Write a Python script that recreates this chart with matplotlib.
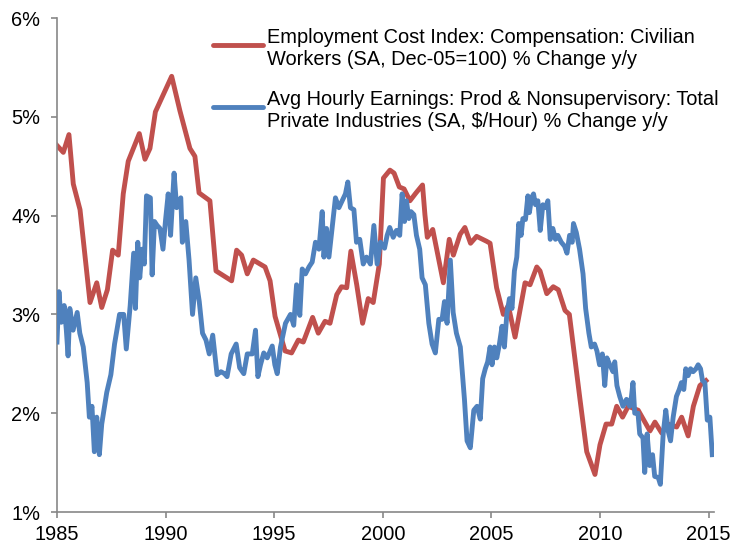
import matplotlib
matplotlib.use("Agg")
import matplotlib.pyplot as plt
from matplotlib.lines import Line2D
from matplotlib.ticker import FuncFormatter

plt.rcParams['font.family'] = ['Liberation Sans', 'DejaVu Sans']

# Employment Cost Index, civilian compensation, % y/y
eci_years = [1985.0, 1985.29, 1985.55, 1985.75, 1986.06, 1986.52, 1986.83, 1987.06, 1987.32, 1987.56,
             1987.82, 1988.05, 1988.28, 1988.79, 1989.05, 1989.28, 1989.53, 1990.28, 1990.66, 1991.12,
             1991.35, 1991.54, 1992.04, 1992.32, 1993.04, 1993.27, 1993.5, 1993.76, 1994.04, 1994.58,
             1994.81, 1995.04, 1995.5, 1995.8, 1996.11, 1996.34, 1996.77, 1997.03, 1997.34, 1997.57,
             1997.88, 1998.1, 1998.34, 1998.53, 1998.8, 1999.07, 1999.33, 1999.56, 1999.84, 2000.03,
             2000.33, 2000.52, 2000.76, 2000.98, 2001.25, 2001.53, 2001.83, 2001.94, 2002.05, 2002.3,
             2002.79, 2003.06, 2003.25, 2003.56, 2003.78, 2004.04, 2004.32, 2004.78, 2004.94, 2005.24,
             2005.55, 2005.78, 2006.09, 2006.55, 2006.78, 2007.09, 2007.24, 2007.55, 2007.85, 2008.08,
             2008.39, 2008.59, 2009.08, 2009.39, 2009.77, 2010.0, 2010.28, 2010.54, 2010.77, 2011.04,
             2011.3, 2011.76, 2012.3, 2012.53, 2012.84, 2013.14, 2013.53, 2013.76, 2014.06, 2014.3,
             2014.6, 2014.88]
eci_vals = [4.71, 4.64, 4.82, 4.32, 4.06, 3.12, 3.32, 3.07, 3.25, 3.65,
            3.60, 4.22, 4.55, 4.83, 4.57, 4.68, 5.05, 5.41, 5.06, 4.68,
            4.60, 4.23, 4.15, 3.44, 3.34, 3.65, 3.60, 3.41, 3.55, 3.48,
            3.34, 2.98, 2.63, 2.61, 2.74, 2.72, 2.97, 2.81, 2.93, 2.91,
            3.20, 3.28, 3.27, 3.64, 3.30, 2.91, 3.16, 3.12, 3.51, 4.38,
            4.46, 4.43, 4.29, 4.27, 4.15, 4.23, 4.31, 4.01, 3.78, 3.86,
            3.32, 3.76, 3.60, 3.81, 3.88, 3.72, 3.79, 3.74, 3.72, 3.27,
            3.00, 3.09, 2.77, 3.32, 3.30, 3.48, 3.44, 3.21, 3.28, 3.25,
            3.04, 3.00, 2.14, 1.61, 1.38, 1.68, 1.89, 1.89, 2.07, 1.96,
            2.07, 2.03, 1.82, 1.91, 1.80, 1.89, 1.86, 1.96, 1.77, 2.07,
            2.28, 2.33]

# Avg hourly earnings, production & nonsupervisory, % y/y
ahe_years = [1985.0, 1985.09, 1985.2, 1985.33, 1985.43, 1985.51, 1985.59, 1985.74, 1985.93, 1986.05,
             1986.21, 1986.39, 1986.49, 1986.61, 1986.72, 1986.83, 1986.95, 1987.06, 1987.29, 1987.48,
             1987.65, 1987.88, 1988.07, 1988.19, 1988.37, 1988.53, 1988.61, 1988.72, 1988.81, 1988.92,
             1989.02, 1989.12, 1989.3, 1989.38, 1989.49, 1989.61, 1989.74, 1989.88, 1990.0, 1990.12,
             1990.23, 1990.39, 1990.51, 1990.7, 1990.77, 1990.93, 1991.08, 1991.24, 1991.39, 1991.55,
             1991.7, 1991.86, 1992.01, 1992.17, 1992.37, 1992.55, 1992.71, 1992.83, 1993.02, 1993.25,
             1993.41, 1993.6, 1993.76, 1993.99, 1994.14, 1994.25, 1994.37, 1994.52, 1994.68, 1994.91,
             1995.03, 1995.14, 1995.29, 1995.52, 1995.75, 1995.9, 1996.03, 1996.18, 1996.29, 1996.44,
             1996.6, 1996.75, 1996.9, 1997.06, 1997.21, 1997.29, 1997.41, 1997.52, 1997.67, 1997.82,
             1997.98, 1998.13, 1998.28, 1998.39, 1998.51, 1998.67, 1998.79, 1998.94, 1999.1, 1999.25,
             1999.43, 1999.59, 1999.74, 1999.89, 2000.08, 2000.2, 2000.32, 2000.48, 2000.63, 2000.78,
             2000.89, 2001.0, 2001.09, 2001.2, 2001.3, 2001.43, 2001.55, 2001.7, 2001.81, 2001.96,
             2002.12, 2002.27, 2002.42, 2002.58, 2002.73, 2002.84, 2002.96, 2003.11, 2003.24, 2003.39,
             2003.57, 2003.76, 2003.88, 2004.03, 2004.19, 2004.34, 2004.49, 2004.6, 2004.72, 2004.83,
             2004.94, 2005.03, 2005.14, 2005.25, 2005.37, 2005.49, 2005.6, 2005.71, 2005.83, 2005.95,
             2006.06, 2006.17, 2006.26, 2006.37, 2006.45, 2006.57, 2006.68, 2006.75, 2006.85, 2006.94,
             2007.03, 2007.14, 2007.25, 2007.37, 2007.49, 2007.6, 2007.71, 2007.83, 2007.95, 2008.06,
             2008.22, 2008.37, 2008.48, 2008.6, 2008.72, 2008.78, 2008.91, 2009.06, 2009.22, 2009.34,
             2009.49, 2009.6, 2009.75, 2009.86, 2009.98, 2010.11, 2010.22, 2010.32, 2010.45, 2010.6,
             2010.68, 2010.78, 2010.91, 2011.06, 2011.22, 2011.37, 2011.45, 2011.52, 2011.6, 2011.75,
             2011.83, 2011.98, 2012.06, 2012.17, 2012.29, 2012.42, 2012.52, 2012.68, 2012.78, 2012.91,
             2013.03, 2013.14, 2013.25, 2013.37, 2013.52, 2013.65, 2013.75, 2013.86, 2013.95, 2014.06,
             2014.17, 2014.29, 2014.42, 2014.52, 2014.63, 2014.72, 2014.83, 2014.94, 2015.06, 2015.17]
ahe_vals = [2.72, 3.23, 2.92, 3.09, 2.84, 2.58, 3.06, 2.84, 3.02, 2.81,
            2.67, 2.31, 1.96, 2.07, 1.61, 1.96, 1.58, 1.89, 2.21, 2.39,
            2.70, 3.00, 3.00, 2.65, 3.09, 3.62, 3.06, 3.73, 3.37, 3.66,
            3.51, 4.20, 4.18, 3.40, 3.94, 3.90, 3.87, 3.66, 3.96, 4.22,
            3.80, 4.43, 4.08, 4.18, 3.73, 3.94, 3.55, 3.00, 3.37, 3.13,
            2.81, 2.74, 2.60, 2.79, 2.39, 2.42, 2.40, 2.37, 2.60, 2.70,
            2.46, 2.40, 2.60, 2.60, 2.84, 2.37, 2.49, 2.61, 2.56, 2.68,
            2.49, 2.40, 2.67, 2.91, 3.00, 2.89, 3.30, 2.99, 3.46, 3.41,
            3.48, 3.53, 3.73, 3.66, 4.04, 3.58, 3.87, 3.58, 3.88, 4.18,
            4.08, 4.15, 4.22, 4.34, 4.08, 4.06, 3.73, 3.76, 3.51, 3.58,
            3.51, 3.90, 3.51, 3.73, 3.67, 3.80, 3.88, 3.78, 3.85, 3.80,
            4.22, 3.94, 4.15, 3.97, 4.04, 4.01, 3.80, 3.66, 3.37, 3.30,
            2.91, 2.70, 2.61, 2.95, 2.95, 3.13, 2.91, 3.55, 3.02, 2.81,
            2.67, 2.14, 1.72, 1.65, 2.03, 2.07, 1.94, 2.35, 2.45, 2.52,
            2.67, 2.49, 2.67, 2.56, 2.70, 2.88, 2.67, 3.00, 3.16, 3.06,
            3.44, 3.58, 3.92, 3.80, 3.97, 3.96, 4.20, 4.03, 4.18, 4.22,
            4.11, 4.15, 3.85, 4.11, 4.08, 4.15, 3.76, 3.87, 3.76, 3.80,
            3.73, 3.69, 3.62, 3.80, 3.73, 3.92, 3.83, 3.66, 3.41, 3.06,
            2.81, 2.67, 2.70, 2.63, 2.49, 2.60, 2.28, 2.56, 2.49, 2.42,
            2.52, 2.28, 2.17, 2.07, 2.14, 2.07, 2.17, 2.31, 2.00, 2.00,
            1.79, 1.75, 1.40, 1.79, 1.47, 1.58, 1.36, 1.35, 1.28, 1.79,
            2.03, 1.82, 1.72, 1.96, 2.17, 2.24, 2.31, 2.24, 2.45, 2.38,
            2.45, 2.42, 2.45, 2.49, 2.45, 2.33, 2.31, 1.93, 1.96, 1.58]

eci_label = 'Employment Cost Index: Compensation: Civilian\nWorkers (SA, Dec-05=100) % Change y/y'
ahe_label = 'Avg Hourly Earnings: Prod & Nonsupervisory: Total\nPrivate Industries (SA, $/Hour) % Change y/y'

red = '#C0504D'
blue = '#4F81BD'
axis_grey = '#878787'
fsize = 14.4

fig = plt.figure(figsize=(7.34, 5.44), dpi=100)
ax = fig.add_axes([57 / 734, 32 / 544, 657 / 734, 494 / 544])

ax.plot(eci_years, eci_vals, color=red, lw=3.5, solid_joinstyle='round', zorder=2)
ax.plot(ahe_years, ahe_vals, color=blue, lw=3.5, solid_joinstyle='round', zorder=3)

ax.set_xlim(1985, 2015.25)
ax.set_ylim(1, 6)
ax.set_xticks(range(1985, 2016, 5))
ax.set_yticks(range(1, 7))
ax.yaxis.set_major_formatter(FuncFormatter(lambda v, p: f'{v:.0f}%'))

for side in ['top', 'right']:
    ax.spines[side].set_visible(False)
for side in ['left', 'bottom']:
    ax.spines[side].set_color(axis_grey)
    ax.spines[side].set_linewidth(1.2)
ax.tick_params(axis='both', direction='out', length=4, width=1.2, color=axis_grey,
               labelsize=fsize, labelcolor='black')
ax.tick_params(axis='y', pad=8)
ax.tick_params(axis='x', pad=5)

# legend drawn by hand so the key sits level with the first line of each label
for y, col, lab in [(0.945, red, eci_label), (0.820, blue, ahe_label)]:
    ax.add_line(Line2D([0.2374, 0.3135], [y, y], transform=ax.transAxes, color=col,
                       lw=3.5, solid_capstyle='round', clip_on=False))
    ax.text(0.3196, y, lab, transform=ax.transAxes, fontsize=fsize, va='center_baseline',
            ha='left', linespacing=1.2)

fig.savefig('out.png', dpi=100)
